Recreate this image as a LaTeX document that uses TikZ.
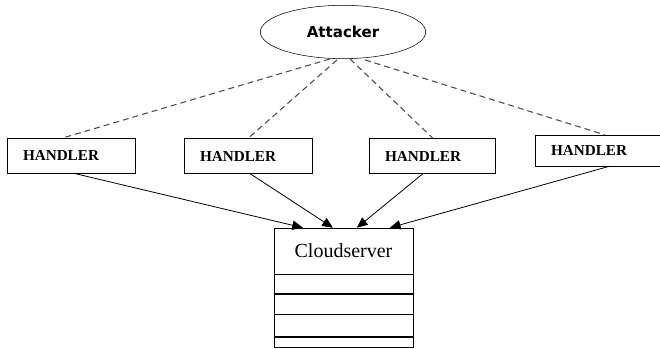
\documentclass[tikz,border=0pt]{standalone}
\usepackage{fontspec}
\setmainfont{Liberation Serif}
\newfontfamily\attfont{DejaVu Sans}
\usetikzlibrary{arrows.meta, shapes.geometric, calc}

\tikzset{
  handler/.style = {draw, rectangle, minimum height=26pt, inner xsep=12pt,
                    text width=72pt, align=left, font=\fontsize{11.4}{13}\selectfont\bfseries},
  row/.style     = {draw, rectangle, minimum width=104pt, inner sep=0pt},
  link/.style    = {dashed, dash pattern=on 4.5pt off 3pt, black!70, line width=0.8pt},
  feed/.style    = {-{Triangle[length=8pt,width=7pt]}, line width=0.6pt}
}

\begin{document}
\begin{tikzpicture}[x=0.75pt, y=-0.75pt]
\useasboundingbox (0,0) rectangle (660,349);

% attacker on top
\node[draw, ellipse, minimum width=124pt, minimum height=40pt,
      font=\attfont\fontsize{11.3}{13}\selectfont\bfseries] (att) at (343,32) {Attacker};

% handlers
\node[handler] (h1) at (71,155.5) {HANDLER};
\node[handler] (h2) at (248,156) {HANDLER};
\node[handler, text width=70.5pt] (h3) at (432,156) {HANDLER};
\node[handler, minimum height=23pt] (h4) at (599,150.5) {HANDLER};

% cloud server with its table rows
\node[row, minimum height=34.5pt, font=\fontsize{15}{17}\selectfont] (cloud) at (343.5,251) {Cloudserver};
\node[row, minimum height=14.25pt, anchor=north] (r1) at (cloud.south) {};
\node[row, minimum height=15pt, anchor=north] (r2) at (r1.south) {};
\node[row, minimum height=16.5pt, anchor=north] (r3) at (r2.south) {};
\node[row, minimum height=7.8pt, anchor=north] (r4) at (r3.south) {};

% attacker -> handlers
\draw[link] ($(att.south)+(-13,0)$) -- ($(h1.north)+(-8,0)$);
\draw[link] ($(att.south)+(-6,1)$) -- (h2.north);
\draw[link] ($(att.south)+(7,0)$) -- ($(h3.north)+(1,0)$);
\draw[link] ($(att.south)+(22,1)$) -- ($(h4.north)+(6,0)$);

% handlers -> cloud server
\draw[feed] ($(h1.south)+(2,0)$) -- ($(cloud.north west)+(29,0)$);
\draw[feed] ($(h2.south)+(2,0)$) -- ($(cloud.north west)+(59,0)$);
\draw[feed] ($(h3.south)+(-9,0)$) -- ($(cloud.north west)+(83,0)$);
\draw[feed] ($(h4.south)+(11,0)$) -- ($(cloud.north west)+(116,0)$);
\end{tikzpicture}
\end{document}
